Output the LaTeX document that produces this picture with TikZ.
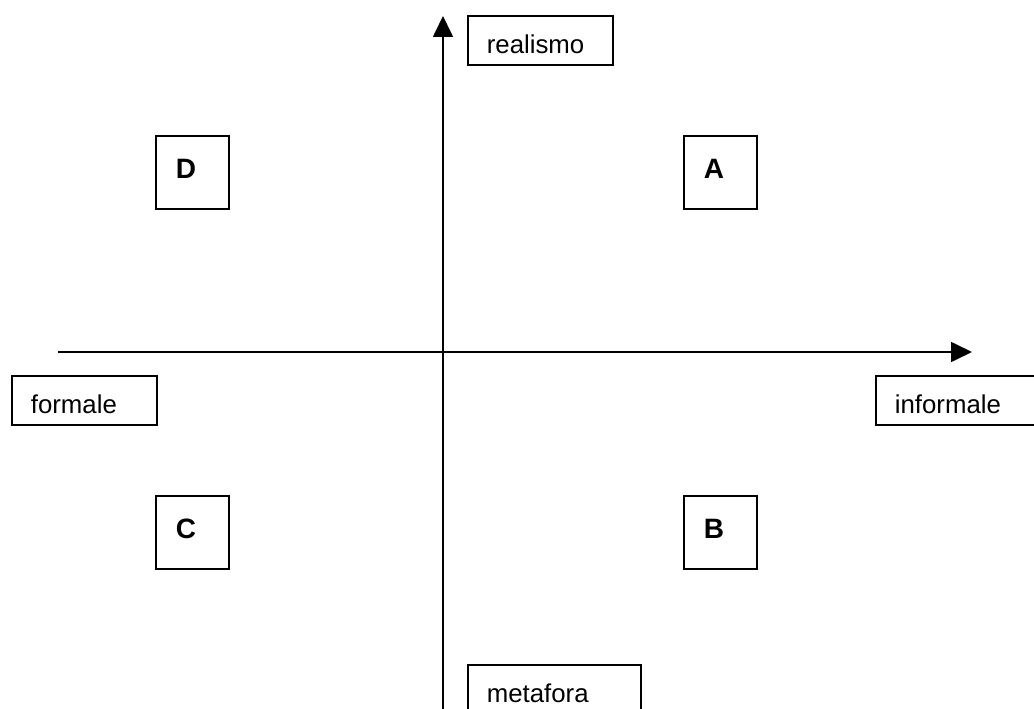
\documentclass[tikz,border=0pt]{standalone}
\usepackage{fontspec}
\setmainfont{Liberation Sans}
\usetikzlibrary{arrows.meta}
\begin{document}
\begin{tikzpicture}[x=1pt,y=-1pt,
  axis/.style={line width=1.7pt, -{Triangle[length=21pt,width=20pt]}},
  lblbox/.style={draw, line width=1.7pt, anchor=north west, inner ysep=0pt,
    inner xsep=19pt, align=left, text height=38pt, text depth=11pt,
    font=\fontsize{25.8}{30}\selectfont},
  letterbox/.style={draw, line width=1.7pt, anchor=north west, inner ysep=0pt,
    inner xsep=20pt, text width=33pt, align=left, text height=43pt, text depth=30pt,
    font=\bfseries\fontsize{28}{32}\selectfont}]
\useasboundingbox (0,0) rectangle (1034,709);
\fill[white] (0,0) rectangle (1034,709);
% axes
\coordinate (vb) at (443,730);
\coordinate (vt) at (443,16);
\coordinate (hl) at (58,352);
\coordinate (hr) at (972,352);
\draw[axis] (vb) -- (vt);
\draw[axis] (hl) -- (hr);
% labels
\node[lblbox, text width=107pt] (real) at (467,15) {realismo};
\node[lblbox, text width=107pt] (form) at (11,375) {formale};
\node[lblbox, text width=127pt] (inf) at (875,375) {informale};
\node[lblbox, text width=135pt] (meta) at (467,664) {metafora};
% quadrant boxes
\node[letterbox] (D) at (155,135) {D};
\node[letterbox] (A) at (683,135) {A};
\node[letterbox] (C) at (155,495) {C};
\node[letterbox] (B) at (683,495) {B};
\end{tikzpicture}
\end{document}
